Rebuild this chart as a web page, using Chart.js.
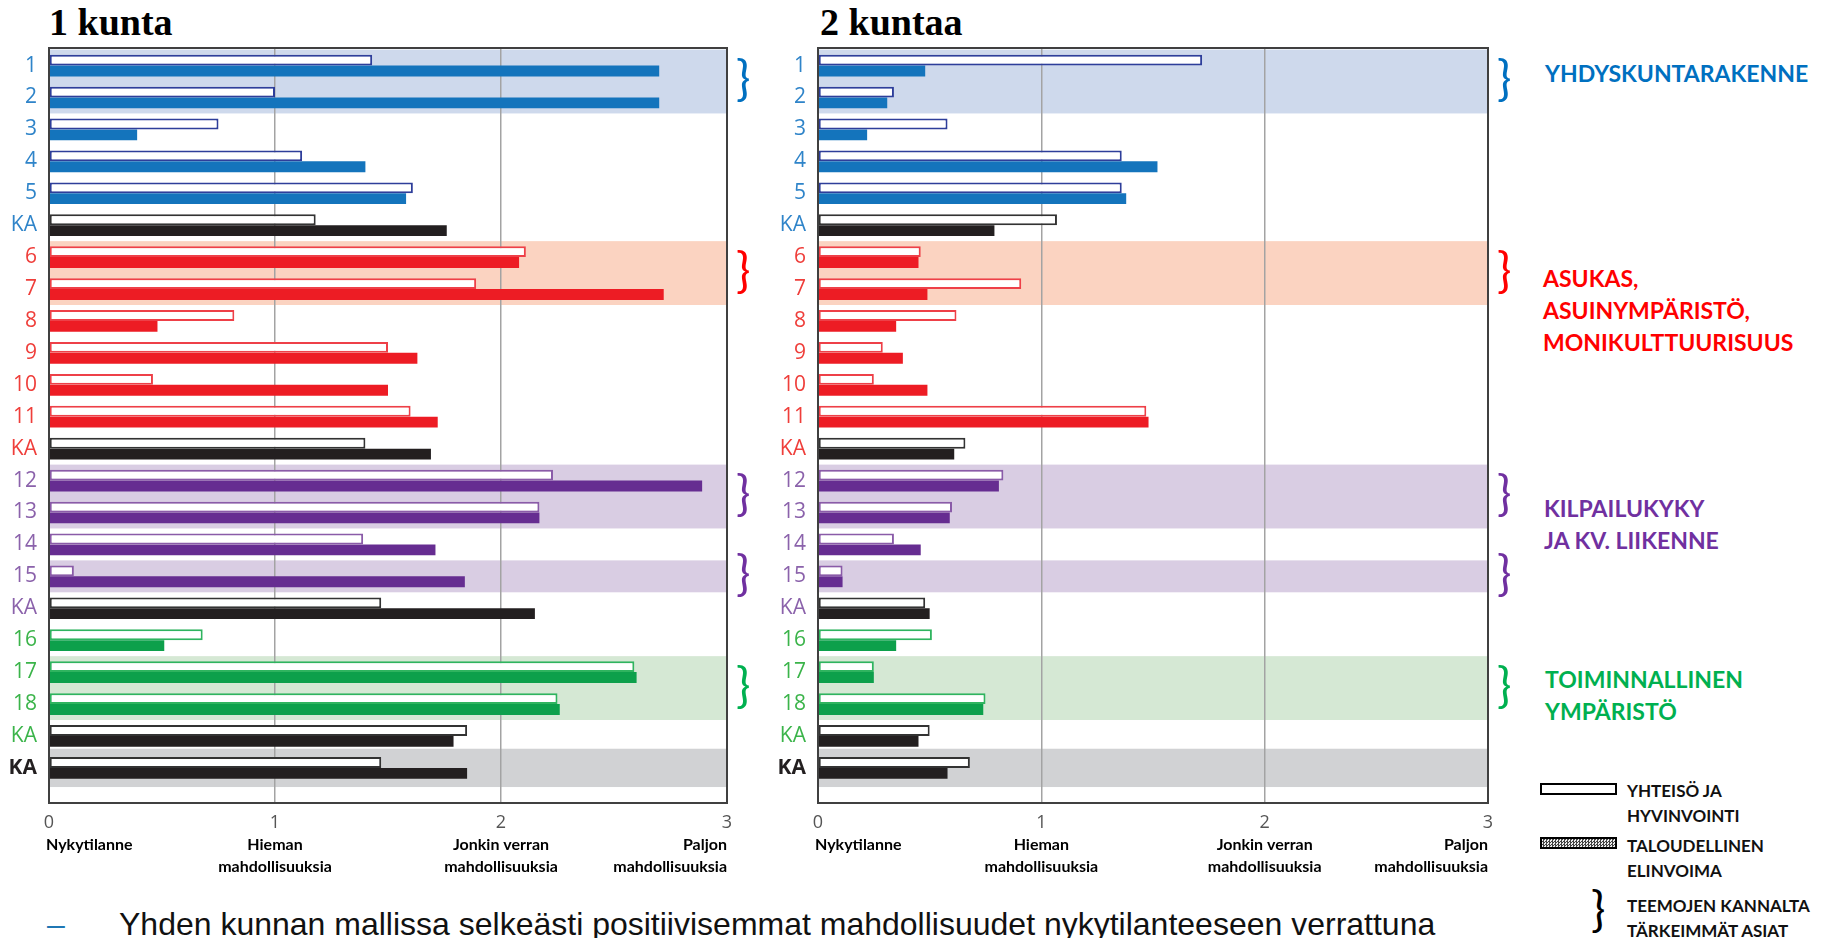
<!DOCTYPE html>
<html lang="fi">
<head>
<meta charset="utf-8">
<title>1 kunta / 2 kuntaa</title>
<script src="https://cdn.jsdelivr.net/npm/chart.js@4.4.1/dist/chart.umd.min.js"></script>
<style>
  html, body { margin: 0; padding: 0; background: #fff; }
  body { width: 1829px; height: 938px; position: relative; overflow: hidden; font-family: Lato, 'Open Sans', sans-serif; }
  .abs { position: absolute; white-space: nowrap; }
  .box { position: absolute; }
  .title { font: bold 38px 'Liberation Serif', serif; line-height: 44px; color: #000; }
  .theme { font-weight: bold; font-size: 23px; line-height: 32px; }
  .leg { font-weight: bold; font-size: 17px; line-height: 25px; color: #111; }
  .note { font: 32px 'Liberation Sans', Arial, sans-serif; line-height: 36px; }
</style>
</head>
<body>

<div class="abs title" style="left:49px;top:0">1 kunta</div>
<div class="abs title" style="left:820px;top:0">2 kuntaa</div>

<div class="box" style="left:0;top:0;width:790px;height:900px"><canvas id="oneChart"></canvas></div>
<div class="box" style="left:770px;top:0;width:760px;height:900px"><canvas id="twoChart"></canvas></div>

<div class="abs theme" style="left:1545px;top:57px;color:#0070C0">YHDYSKUNTARAKENNE</div>
<div class="abs theme" style="left:1543px;top:262px;color:#FF0000">ASUKAS,<br>ASUINYMPÄRISTÖ,<br>MONIKULTTUURISUUS</div>
<div class="abs theme" style="left:1544px;top:492px;color:#7030A0">KILPAILUKYKY<br>JA KV. LIIKENNE</div>
<div class="abs theme" style="left:1545px;top:663px;color:#00B050">TOIMINNALLINEN<br>YMPÄRISTÖ</div>

<div class="box" style="left:1540px;top:783px;width:73px;height:8px;border:2px solid #000;background:#fff"></div>
<div class="abs leg" style="left:1627px;top:778px">YHTEISÖ JA<br>HYVINVOINTI</div>
<div class="box" style="left:1540px;top:837px;width:73px;height:8px;border:2px solid #000;background:repeating-conic-gradient(#444 0 25%, #eee 0 50%) 0 0/3px 3px"></div>
<div class="abs leg" style="left:1627px;top:833px">TALOUDELLINEN<br>ELINVOIMA</div>
<div class="abs" style="left:1591px;top:880px;font:48px Lato;line-height:56px;color:#000">}</div>
<div class="abs leg" style="left:1627px;top:893px">TEEMOJEN KANNALTA<br>TÄRKEIMMÄT ASIAT</div>

<div class="abs note" style="left:47px;top:906px;color:#1F77B4">–</div>
<div class="abs note" style="left:119px;top:906px;color:#111">Yhden kunnan mallissa selkeästi positiivisemmat mahdollisuudet nykytilanteeseen verrattuna</div>

<script>
'use strict';

// rows from top to bottom
let rowLabels = ['1', '2', '3', '4', '5', 'KA', '6', '7', '8', '9', '10', '11', 'KA',
    '12', '13', '14', '15', 'KA', '16', '17', '18', 'KA', 'KA'];
let rowTheme = [0, 0, 0, 0, 0, 0, 1, 1, 1, 1, 1, 1, 1, 2, 2, 2, 2, 2, 3, 3, 3, 3, 4];
let rowIsAverage = [0, 0, 0, 0, 0, 1, 0, 0, 0, 0, 0, 0, 1, 0, 0, 0, 0, 1, 0, 0, 0, 1, 1];

// 1 kunta
let oneWelfare = [1.43, 1.00, 0.75, 1.12, 1.61, 1.18, 2.11, 1.89, 0.82, 1.50, 0.46, 1.60, 1.40,
    2.23, 2.17, 1.39, 0.11, 1.47, 0.68, 2.59, 2.25, 1.85, 1.47];
let oneEconomy = [2.70, 2.70, 0.39, 1.40, 1.58, 1.76, 2.08, 2.72, 0.48, 1.63, 1.50, 1.72, 1.69,
    2.89, 2.17, 1.71, 1.84, 2.15, 0.51, 2.60, 2.26, 1.79, 1.85];

// 2 kuntaa
let twoWelfare = [1.72, 0.34, 0.58, 1.36, 1.36, 1.07, 0.46, 0.91, 0.62, 0.29, 0.25, 1.47, 0.66,
    0.83, 0.60, 0.34, 0.11, 0.48, 0.51, 0.25, 0.75, 0.50, 0.68];
let twoEconomy = [0.48, 0.31, 0.22, 1.52, 1.38, 0.79, 0.45, 0.49, 0.35, 0.38, 0.49, 1.48, 0.61,
    0.81, 0.59, 0.46, 0.11, 0.50, 0.35, 0.25, 0.74, 0.45, 0.58];

let scaleTicks = [0, 1, 2, 3];
let scaleNames = [['Nykytilanne'], ['Hieman', 'mahdollisuuksia'],
    ['Jonkin verran', 'mahdollisuuksia'], ['Paljon', 'mahdollisuuksia']];

// highlighted rows: first row, last row, theme
let keyRows = [[0, 1, 0], [6, 7, 1], [13, 14, 2], [16, 16, 2], [19, 20, 3], [22, 22, 4]];

let themes = [
    { label: '#2F84C9', fill: '#1474BC', edge: '#2E3E9A', band: '#CED9EC', brace: '#0070C0' },
    { label: '#EF3E3A', fill: '#ED1C24', edge: '#EE4048', band: '#FBD3C1', brace: '#FF0000' },
    { label: '#8B62AB', fill: '#662D91', edge: '#8A5BA8', band: '#D9CDE3', brace: '#7030A0' },
    { label: '#3BB44A', fill: '#0DA04B', edge: '#2FB45F', band: '#D5E8D4', brace: '#00B050' },
    { label: '#231F20', fill: '#231F20', edge: '#333333', band: '#D1D2D4', brace: null }
];

function barFill(i) {
    return rowIsAverage[i] ? '#231F20' : themes[rowTheme[i]].fill;
}
function barEdge(i) {
    return rowIsAverage[i] ? '#333333' : themes[rowTheme[i]].edge;
}

let themePlugin = {
    id: 'themeBands',
    beforeDraw(chart) {
        let ctx = chart.ctx;
        let area = chart.chartArea;
        let y = chart.scales.y;
        ctx.save();
        keyRows.forEach(function (k) {
            let pad = k[2] === 4 ? 0.6 : 0.5;
            let top = Math.max(area.top, y.getPixelForValue(k[0] - pad));
            let bottom = Math.min(area.bottom, y.getPixelForValue(k[1] + pad));
            ctx.fillStyle = themes[k[2]].band;
            ctx.fillRect(area.left, top, area.right - area.left, bottom - top);
        });
        ctx.restore();
    },
    afterDraw(chart) {
        let ctx = chart.ctx;
        let area = chart.chartArea;
        let x = chart.scales.x;
        let y = chart.scales.y;
        ctx.save();
        ctx.strokeStyle = '#404040';
        ctx.lineWidth = 2;
        ctx.strokeRect(area.left, area.top, area.right - area.left, area.bottom - area.top);

        // braces next to the important rows
        ctx.font = '48px Lato';
        ctx.textAlign = 'left';
        ctx.textBaseline = 'middle';
        keyRows.forEach(function (k) {
            if (!themes[k[2]].brace) return;
            let mid = (y.getPixelForValue(k[0]) + y.getPixelForValue(k[1])) / 2;
            ctx.fillStyle = themes[k[2]].brace;
            ctx.fillText('}', area.right + 9, mid - 2);
        });

        // names under the scale numbers
        ctx.font = 'bold 16px Lato';
        ctx.fillStyle = '#000';
        ctx.textBaseline = 'alphabetic';
        scaleNames.forEach(function (lines, i) {
            let px = x.getPixelForValue(scaleTicks[i]);
            if (i === 0) {
                ctx.textAlign = 'left';
                px -= 3;
            } else if (i === scaleNames.length - 1) {
                ctx.textAlign = 'right';
            } else {
                ctx.textAlign = 'center';
            }
            lines.forEach(function (t, j) {
                ctx.fillText(t, px, area.bottom + 47 + j * 22);
            });
        });
        ctx.restore();
    }
};

function buildChart(canvasId, welfare, economy, padRight, axisWidth) {
    let ctx = document.getElementById(canvasId).getContext('2d');
    return new Chart(ctx, {
        type: 'bar',
        data: {
            datasets: [{
                label: 'YHTEISÖ JA HYVINVOINTI',
                data: welfare.map(function (v, i) { return { x: v, y: i }; }),
                backgroundColor: '#ffffff',
                borderColor: rowLabels.map(function (l, i) { return barEdge(i); }),
                borderWidth: 2,
                borderSkipped: false,
                categoryPercentage: 0.68,
                barPercentage: 1
            }, {
                label: 'TALOUDELLINEN ELINVOIMA',
                data: economy.map(function (v, i) { return { x: v, y: i }; }),
                backgroundColor: rowLabels.map(function (l, i) { return barFill(i); }),
                borderWidth: 0,
                categoryPercentage: 0.68,
                barPercentage: 1
            }]
        },
        options: {
            indexAxis: 'y',
            responsive: true,
            maintainAspectRatio: false,
            animation: false,
            layout: { padding: { top: 48, right: padRight, left: 0, bottom: 0 } },
            plugins: { legend: { display: false }, tooltip: { enabled: false } },
            scales: {
                x: {
                    type: 'linear',
                    min: 0,
                    max: 3,
                    ticks: {
                        stepSize: 1,
                        color: '#555',
                        font: { family: 'Open Sans', size: 18 },
                        padding: 9
                    },
                    grid: { color: '#a3a3a3', lineWidth: 1.5, drawTicks: false },
                    border: { display: false },
                    afterFit: function (s) { s.height = 97; }
                },
                y: {
                    type: 'linear',
                    reverse: true,
                    offset: false,
                    bounds: 'data',
                    min: -0.55,
                    max: 23.1,
                    afterBuildTicks: function (s) {
                        s.ticks = rowLabels.map(function (l, i) { return { value: i }; });
                    },
                    ticks: {
                        autoSkip: false,
                        padding: 12,
                        callback: function (v) { return rowLabels[v]; },
                        color: function (c) { return themes[rowTheme[c.index]].label; },
                        font: function (c) {
                            return c.index === rowLabels.length - 1
                                ? { family: 'Open Sans', size: 21, weight: 'bold' }
                                : { family: 'Open Sans', size: 21 };
                        }
                    },
                    grid: { display: false, offset: false, drawTicks: false },
                    border: { display: false },
                    afterFit: function (s) { s.width = axisWidth; }
                }
            }
        },
        plugins: [themePlugin]
    });
}

buildChart('oneChart', oneWelfare, oneEconomy, 63, 49);
buildChart('twoChart', twoWelfare, twoEconomy, 42, 48);
</script>
</body>
</html>
